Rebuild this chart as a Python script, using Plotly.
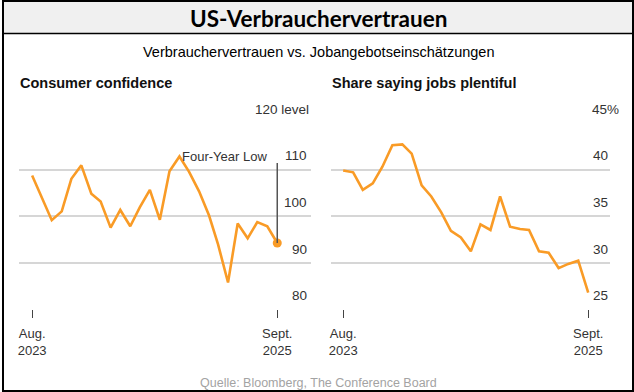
import pandas as pd
import plotly.graph_objects as go

# ---------------- data ----------------
months = pd.date_range("2023-08-01", "2025-09-01", freq="MS").strftime("%Y-%m-%d").tolist()

consumer_confidence = [108.7, 103.9, 99.1, 101.0, 108.0, 110.9, 104.8, 103.1, 97.5, 101.3,
                       97.8, 101.9, 105.6, 99.2, 109.6, 112.8, 109.5, 105.3, 100.1, 93.9,
                       85.7, 98.4, 95.2, 98.7, 97.8, 94.2]

jobs_plentiful = [39.9, 39.7, 37.8, 38.5, 40.3, 42.6, 42.7, 41.7, 38.3, 37.1,
                  35.4, 33.4, 32.7, 31.2, 34.1, 33.5, 37.1, 33.85, 33.6, 33.5,
                  31.2, 31.05, 29.4, 29.85, 30.2, 26.75]

conf_ticks = [80, 90, 100, 110, 120]
conf_tick_text = ["80", "90", "100", "110", "120 level"]
jobs_ticks = [25, 30, 35, 40, 45]
jobs_tick_text = ["25", "30", "35", "40", "45%"]

x_tick_vals = [months[0], months[-1]]
x_tick_text = ["Aug.<br>2023", "Sept.<br>2025"]

title = "US-Verbrauchervertrauen"
subtitle = "Verbrauchervertrauen vs. Jobangebotseinschätzungen"
left_heading = "Consumer confidence"
right_heading = "Share saying jobs plentiful"
callout = "Four-Year Low"
source = "Quelle: Bloomberg, The Conference Board"

# ---------------- layout helpers ----------------
W, H = 634, 392
def fx(px):
    return px / W
def fy(py):
    return 1 - py / H

NARROW = "Liberation Sans Narrow, Arial Narrow, Liberation Sans, Arial, sans-serif"
REG = "Liberation Sans, Arial, sans-serif"
ORANGE = "#F99B26"
GRID = "#d6d6d6"
TXT = "#333333"
TICK_SIZE = 13.5

first = pd.Timestamp(months[0])
last = pd.Timestamp(months[-1])
span_days = (last - first).days

def date_range_for(px_first, px_last, px_left, px_right):
    per_px = span_days / (px_last - px_first)
    lo = first - pd.Timedelta(days=(px_first - px_left) * per_px)
    hi = last + pd.Timedelta(days=(px_right - px_last) * per_px)
    return [lo.strftime("%Y-%m-%d"), hi.strftime("%Y-%m-%d")]

fig = go.Figure()

fig.add_trace(go.Scatter(x=months, y=consumer_confidence, mode="lines",
                         line=dict(color=ORANGE, width=2.6), xaxis="x", yaxis="y",
                         showlegend=False, hoverinfo="skip"))
fig.add_trace(go.Scatter(x=[months[-1]], y=[consumer_confidence[-1]], mode="markers",
                         marker=dict(color=ORANGE, size=9), xaxis="x", yaxis="y",
                         showlegend=False, hoverinfo="skip"))
fig.add_trace(go.Scatter(x=months, y=jobs_plentiful, mode="lines",
                         line=dict(color=ORANGE, width=2.6), xaxis="x2", yaxis="y2",
                         showlegend=False, hoverinfo="skip"))

ydom = [fy(309), fy(123)]
axis_common = dict(showgrid=False, zeroline=False, showline=False,
                   ticks="outside", ticklen=8, tickwidth=1.3, tickcolor="#444",
                   ticklabelstandoff=4,
                   tickfont=dict(family=NARROW, size=13, color=TXT),
                   fixedrange=True)
fig.update_layout(
    xaxis=dict(domain=[fx(17), fx(310)], range=date_range_for(30, 276, 17, 310),
               tickvals=x_tick_vals, ticktext=x_tick_text, anchor="y", **axis_common),
    yaxis=dict(domain=ydom, range=[conf_ticks[0], conf_ticks[-1]], tickvals=conf_ticks,
               showticklabels=False, showgrid=True, gridcolor=GRID, gridwidth=2,
               zeroline=False, showline=False, ticks="", anchor="x", fixedrange=True),
    xaxis2=dict(domain=[fx(330), fx(610)], range=date_range_for(342, 588, 330, 610),
                tickvals=x_tick_vals, ticktext=x_tick_text, anchor="y2", **axis_common),
    yaxis2=dict(domain=ydom, range=[jobs_ticks[0], jobs_ticks[-1]], tickvals=jobs_ticks,
                showticklabels=False, showgrid=True, gridcolor=GRID, gridwidth=2,
                zeroline=False, showline=False, ticks="", anchor="x2", fixedrange=True),
)

ann = []
for v, t in zip(conf_ticks, conf_tick_text):
    ann.append(dict(x=fx(310 if v == conf_ticks[-1] else 308), xref="paper", y=v, yref="y",
                    text=t, showarrow=False, xanchor="right", yanchor="bottom", yshift=4,
                    font=dict(family=NARROW, size=TICK_SIZE, color=TXT)))
for v, t in zip(jobs_ticks, jobs_tick_text):
    ann.append(dict(x=fx(621 if v == jobs_ticks[-1] else 610), xref="paper", y=v, yref="y2",
                    text=t, showarrow=False, xanchor="right", yanchor="bottom", yshift=4,
                    font=dict(family=NARROW, size=TICK_SIZE, color=TXT)))

ann += [
    dict(x=fx(317), y=fy(18), xref="paper", yref="paper", text=f"<b>{title}</b>",
         showarrow=False, xanchor="center", yanchor="middle",
         font=dict(family="Lato, Liberation Sans, Arial", size=22.5, color="#000")),
    dict(x=fx(318), y=fy(52), xref="paper", yref="paper", text=subtitle,
         showarrow=False, xanchor="center", yanchor="middle",
         font=dict(family=REG, size=14.5, color="#000")),
    dict(x=fx(16), y=fy(83), xref="paper", yref="paper", text=f"<b>{left_heading}</b>",
         showarrow=False, xanchor="left", yanchor="middle",
         font=dict(family=NARROW, size=14.5, color="#111")),
    dict(x=fx(329), y=fy(83), xref="paper", yref="paper", text=f"<b>{right_heading}</b>",
         showarrow=False, xanchor="left", yanchor="middle",
         font=dict(family=NARROW, size=14.5, color="#111")),
    dict(x=months[-1], xref="x", y=112.7, yref="y", text=callout, showarrow=False,
         xanchor="right", yanchor="middle", xshift=-8,
         font=dict(family=NARROW, size=13, color=TXT)),
    dict(x=fx(318), y=fy(383), xref="paper", yref="paper", text=source,
         showarrow=False, xanchor="center", yanchor="middle",
         font=dict(family=REG, size=12.5, color="#a3a3a3")),
]

shapes = [
    dict(type="rect", xref="paper", yref="paper", x0=fx(1), x1=fx(633), y0=fy(1), y1=fy(33.5),
         fillcolor="#f0f0f0", line=dict(width=0), layer="below"),
    dict(type="line", xref="paper", yref="paper", x0=fx(0), x1=fx(634), y0=fy(33.5), y1=fy(33.5),
         line=dict(color="#000", width=1.3)),
    dict(type="rect", xref="paper", yref="paper", x0=fx(1), x1=fx(633), y0=fy(1), y1=fy(391),
         line=dict(color="#000", width=2)),
    dict(type="line", xref="x", yref="y", x0=months[-1], x1=months[-1],
         y0=consumer_confidence[-1], y1=111.4, line=dict(color="#555", width=1.5)),
]

fig.update_layout(width=W, height=H, margin=dict(l=0, r=0, t=0, b=0),
                  paper_bgcolor="white", plot_bgcolor="white",
                  annotations=ann, shapes=shapes, showlegend=False)

fig.write_html("out.html", config={"displayModeBar": False},
               post_script="document.body.style.margin='0';document.body.style.padding='0';document.body.style.overflow='hidden';")
